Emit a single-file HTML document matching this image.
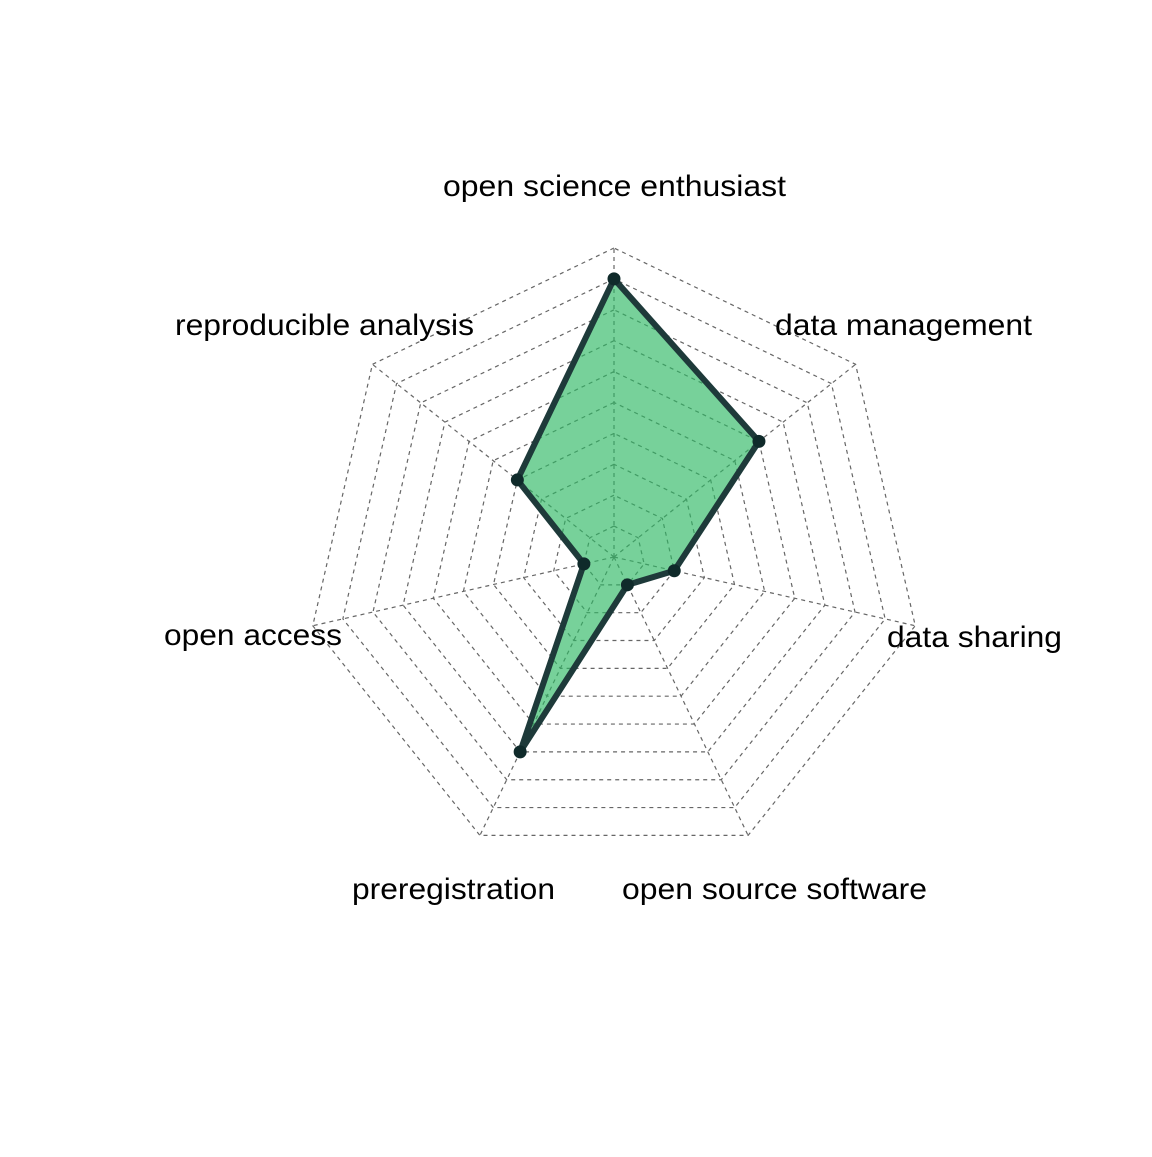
<!DOCTYPE html>
<html><head><style>
html,body{margin:0;padding:0;background:#fff;}
svg text{font-family:"Liberation Sans",Arial,sans-serif;font-size:30px;fill:#000;}
</style></head><body>
<svg id="s" width="1152" height="1152" viewBox="0 0 1152 1152" xmlns="http://www.w3.org/2000/svg">
<rect width="1152" height="1152" fill="#fff"/>
<g id="grid"></g>
<g id="data"></g>
<text x="443" y="196" textLength="343" lengthAdjust="spacingAndGlyphs">open science enthusiast</text>
<text x="175" y="335" textLength="299" lengthAdjust="spacingAndGlyphs">reproducible analysis</text>
<text x="775" y="335" textLength="257" lengthAdjust="spacingAndGlyphs">data management</text>
<text x="164" y="645" textLength="178" lengthAdjust="spacingAndGlyphs">open access</text>
<text x="887" y="647" textLength="175" lengthAdjust="spacingAndGlyphs">data sharing</text>
<text x="352" y="899" textLength="203" lengthAdjust="spacingAndGlyphs">preregistration</text>
<text x="622" y="899" textLength="305" lengthAdjust="spacingAndGlyphs">open source software</text>
</svg>
<script>
var cx=614,cy=557,R=309,n=7;
function pt(i,r){var a=(90+i*360/n)*Math.PI/180;return [cx+r*R*Math.cos(a),cy-r*R*Math.sin(a)];}
var g=document.getElementById('grid'),h='';
for(var l=1;l<=10;l++){var p=[];for(var i=0;i<n;i++){p.push(pt(i,l/10).join(','));}
h+='<polygon points="'+p.join(' ')+'" fill="none" stroke="#666" stroke-width="1.2" stroke-dasharray="4,4"/>';}
for(var i=0;i<n;i++){var q=pt(i,1);h+='<line x1="'+cx+'" y1="'+cy+'" x2="'+q[0]+'" y2="'+q[1]+'" stroke="#666" stroke-width="1.2" stroke-dasharray="4,4"/>';}
g.innerHTML=h;
var v=[0.9,0.4,0.1,0.7,0.1,0.2,0.6],p=[],d='';
for(var i=0;i<n;i++){p.push(pt(i,v[i]));}
d+='<polygon points="'+p.map(function(a){return a.join(',')}).join(' ')+'" fill="rgba(46,184,100,0.65)" stroke="#1e3a3a" stroke-width="6" stroke-linejoin="round"/>';
p.forEach(function(a){d+='<circle cx="'+a[0]+'" cy="'+a[1]+'" r="6.5" fill="#0f2a2a"/>';});
document.getElementById('data').innerHTML=d;
</script>
</body></html>
